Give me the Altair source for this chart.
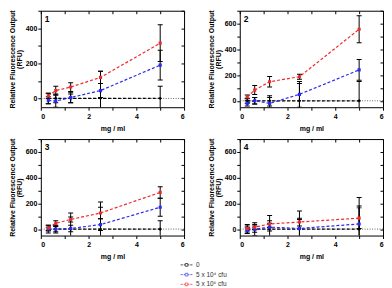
import altair as alt
import pandas as pd

doses = [0.3125, 0.625, 1.25, 2.5, 5.0]
series_names = ["0", "5 x 10⁴ cfu", "5 x 10⁶ cfu"]
series_colors = ["#000000", "#2a2af0", "#f02a2a"]
series_shapes = ["cross", "square", "square"]
panel_ids = ["1", "2", "3", "4"]
panel_ymax = [500, 700, 700, 700]

# panel 1
p1_s0 = [0, 0, 0, 0, 0]
p1_s0_err = [30, 25, 25, 155, 70]
p1_s1 = [-10, -15, 5, 45, 190]
p1_s1_err = [20, 35, 30, 40, 85]
p1_s2 = [15, 45, 65, 120, 315]
p1_s2_err = [15, 25, 25, 35, 105]
# panel 2
p2_s0 = [0, 0, 0, 0, 0]
p2_s0_err = [20, 25, 40, 135, 150]
p2_s1 = [-20, 0, -20, 50, 240]
p2_s1_err = [20, 25, 45, 100, 80]
p2_s2 = [30, 83, 148, 187, 556]
p2_s2_err = [15, 35, 40, 20, 105]
# panel 3
p3_s0 = [0, 0, 0, 0, 0]
p3_s0_err = [30, 30, 125, 210, 65]
p3_s1 = [0, 0, 5, 35, 170]
p3_s1_err = [15, 20, 25, 45, 70]
p3_s2 = [10, 45, 75, 125, 285]
p3_s2_err = [20, 20, 20, 45, 45]
# panel 4
p4_s0 = [0, 0, 0, 0, 0]
p4_s0_err = [35, 50, 105, 140, 245]
p4_s1 = [-10, 0, 15, 5, 40]
p4_s1_err = [20, 25, 30, 70, 140]
p4_s2 = [5, 15, 40, 55, 85]
p4_s2_err = [20, 20, 25, 30, 80]

data_sets = {
    "1": [(p1_s0, p1_s0_err), (p1_s1, p1_s1_err), (p1_s2, p1_s2_err)],
    "2": [(p2_s0, p2_s0_err), (p2_s1, p2_s1_err), (p2_s2, p2_s2_err)],
    "3": [(p3_s0, p3_s0_err), (p3_s1, p3_s1_err), (p3_s2, p3_s2_err)],
    "4": [(p4_s0, p4_s0_err), (p4_s1, p4_s1_err), (p4_s2, p4_s2_err)],
}

rows = []
for pid in panel_ids:
    for si, (m, e) in enumerate(data_sets[pid]):
        for x, y, er in zip(doses, m, e):
            rows.append(dict(panel=pid, series=series_names[si], order=si,
                             x=x, y=y, lo=y - er, hi=y + er))
df = pd.DataFrame(rows)

W, H = 144, 97
FONT = "Liberation Sans"
LEG_PATH = ("M-1.25,0H-0.8M-0.6,0H-0.3M0.3,0H0.6M0.8,0H1.25"
            "M-0.28,-0.28H0.28V0.28H-0.28Z")

color_scale = alt.Scale(domain=series_names, range=series_colors)
shape_scale = alt.Scale(domain=series_names, range=series_shapes)


def make_panel(pid, ymax):
    d = df[df.panel == pid]
    xs = alt.Scale(domain=[0, 6], nice=False, zero=False)
    ys = alt.Scale(domain=[-50, ymax], nice=False, zero=False)
    yvals = list(range(0, ymax + 1, 100))
    xax = alt.Axis(values=list(range(7)),
                   labelExpr="datum.value % 2 == 0 ? datum.label : ''",
                   title="mg / ml", grid=False, tickSize=3, labelPadding=2,
                   titlePadding=5)
    yax = alt.Axis(values=yvals,
                   labelExpr="datum.value % 200 == 0 ? datum.label : ''",
                   title=["Relative Fluorescence Output", "(RFU)"],
                   grid=False, tickSize=3, titlePadding=3, titleLineHeight=6.5)
    X = alt.X("x:Q", scale=xs, axis=xax)
    Y = alt.Y("y:Q", scale=ys, axis=yax)
    base = alt.Chart(d)

    zero = alt.Chart(pd.DataFrame({"y": [0]})).mark_rule(
        strokeDash=[1, 1.5], color="#555555", strokeWidth=0.9
    ).encode(y=alt.Y("y:Q", scale=ys, axis=yax))

    lines = base.mark_line(strokeDash=[3, 2], strokeWidth=1.2, clip=True).encode(
        X, Y,
        color=alt.Color("series:N", scale=color_scale, legend=None),
        detail="series:N")
    bars = base.mark_rule(color="black", strokeWidth=1, opacity=1,
                          clip=True).encode(
        X, y=alt.Y("lo:Q", scale=ys, axis=yax), y2="hi:Q")
    cap_lo = base.mark_tick(orient="horizontal", size=5, thickness=1,
                            opacity=1, color="black", clip=True).encode(
        X, y=alt.Y("lo:Q", scale=ys, axis=yax))
    cap_hi = base.mark_tick(orient="horizontal", size=5, thickness=1,
                            opacity=1, color="black", clip=True).encode(
        X, y=alt.Y("hi:Q", scale=ys, axis=yax))
    pts = base.mark_point(filled=True, size=10, opacity=1, clip=True).encode(
        X, Y,
        color=alt.Color("series:N", scale=color_scale, legend=None),
        shape=alt.Shape("series:N", scale=shape_scale, legend=None))
    label = alt.Chart(pd.DataFrame({"t": [pid]})).mark_text(
        align="left", baseline="top", fontWeight="bold", fontSize=8.5,
        font=FONT, color="black"
    ).encode(x=alt.value(4), y=alt.value(4), text="t:N")

    main = alt.layer(zero, lines, bars, cap_lo, cap_hi, pts, label)

    frame = base.mark_point(opacity=0).encode(
        x=alt.X("x:Q", scale=xs,
                axis=alt.Axis(orient="bottom", offset=-H, labels=False,
                              title=None, values=list(range(7)), tickSize=3,
                              grid=False)),
        y=alt.Y("y:Q", scale=ys,
                axis=alt.Axis(orient="left", offset=-W, labels=False,
                              title=None, values=yvals, tickSize=3,
                              grid=False)))
    return alt.layer(main, frame).resolve_scale(
        x="independent", y="independent").properties(width=W, height=H)


p1 = make_panel("1", panel_ymax[0])
p2 = make_panel("2", panel_ymax[1])
p3 = make_panel("3", panel_ymax[2])
p4 = make_panel("4", panel_ymax[3])

legend_df = pd.DataFrame({"series": series_names})
legend_chart = alt.Chart(legend_df).mark_point(
    filled=False, strokeWidth=1, clip=True
).encode(
    size=alt.value(0),
    stroke=alt.Stroke(
        "series:N",
        scale=alt.Scale(domain=series_names, range=series_colors),
        legend=alt.Legend(
            orient="right", offset=8, title=None,
            symbolType=LEG_PATH, symbolSize=90, symbolStrokeWidth=1,
            labelFont=FONT, labelFontSize=6.5, labelColor="#333333",
            labelFontWeight="normal", rowPadding=0.8, labelOffset=4,
            padding=0))
).properties(width=133, height=1)

grid = alt.vconcat(
    alt.hconcat(p1, p2, spacing=22),
    alt.hconcat(p3, p4, spacing=22),
    spacing=7,
)

chart = alt.vconcat(grid, legend_chart, spacing=-8).resolve_scale(
    stroke="independent").resolve_legend(stroke="independent").properties(
    padding={"left": 0, "top": 1, "right": 0, "bottom": 0}
).configure_view(stroke=None).configure_axis(
    labelFont=FONT, labelFontWeight="bold", labelFontSize=7,
    titleFont=FONT, titleFontWeight="bold", titleFontSize=7,
    domainColor="black", tickColor="black", labelColor="black",
    titleColor="black", domainWidth=1, tickWidth=1, labelPadding=1,
)

chart.save("out.html", embed_options={"renderer": "svg", "actions": False})
